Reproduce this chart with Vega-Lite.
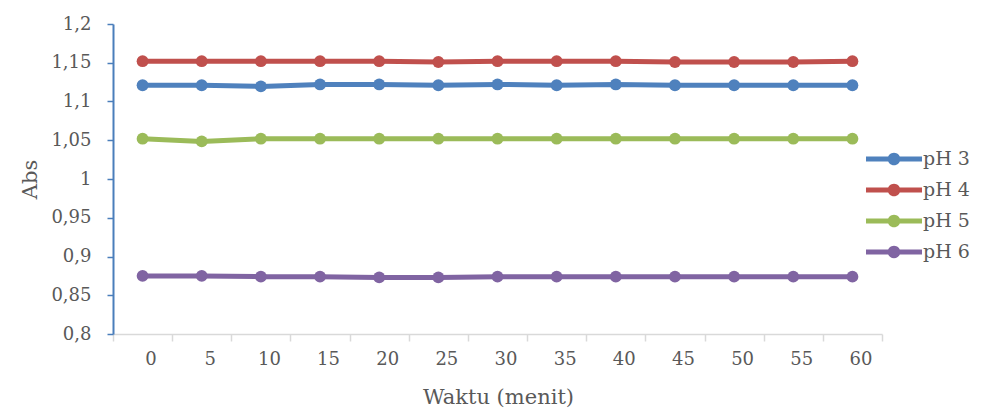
{
  "$schema": "https://vega.github.io/schema/vega-lite/v6.json",
  "width": 769,
  "height": 310,
  "autosize": "none",
  "padding": {"left": 113, "top": 24, "right": 102, "bottom": 78},
  "background": "white",
  "config": {
    "view": {"stroke": null},
    "font": "DejaVu Serif"
  },
  "data": {
    "values": [
      {"waktu": 0, "ph": "pH 3", "abs": 1.121},
      {"waktu": 5, "ph": "pH 3", "abs": 1.121},
      {"waktu": 10, "ph": "pH 3", "abs": 1.1195},
      {"waktu": 15, "ph": "pH 3", "abs": 1.122},
      {"waktu": 20, "ph": "pH 3", "abs": 1.122},
      {"waktu": 25, "ph": "pH 3", "abs": 1.121},
      {"waktu": 30, "ph": "pH 3", "abs": 1.122},
      {"waktu": 35, "ph": "pH 3", "abs": 1.121},
      {"waktu": 40, "ph": "pH 3", "abs": 1.122},
      {"waktu": 45, "ph": "pH 3", "abs": 1.121},
      {"waktu": 50, "ph": "pH 3", "abs": 1.121},
      {"waktu": 55, "ph": "pH 3", "abs": 1.121},
      {"waktu": 60, "ph": "pH 3", "abs": 1.121},
      {"waktu": 0, "ph": "pH 4", "abs": 1.152},
      {"waktu": 5, "ph": "pH 4", "abs": 1.152},
      {"waktu": 10, "ph": "pH 4", "abs": 1.152},
      {"waktu": 15, "ph": "pH 4", "abs": 1.152},
      {"waktu": 20, "ph": "pH 4", "abs": 1.152},
      {"waktu": 25, "ph": "pH 4", "abs": 1.151},
      {"waktu": 30, "ph": "pH 4", "abs": 1.152},
      {"waktu": 35, "ph": "pH 4", "abs": 1.152},
      {"waktu": 40, "ph": "pH 4", "abs": 1.152},
      {"waktu": 45, "ph": "pH 4", "abs": 1.151},
      {"waktu": 50, "ph": "pH 4", "abs": 1.151},
      {"waktu": 55, "ph": "pH 4", "abs": 1.151},
      {"waktu": 60, "ph": "pH 4", "abs": 1.152},
      {"waktu": 0, "ph": "pH 5", "abs": 1.052},
      {"waktu": 5, "ph": "pH 5", "abs": 1.0485},
      {"waktu": 10, "ph": "pH 5", "abs": 1.052},
      {"waktu": 15, "ph": "pH 5", "abs": 1.052},
      {"waktu": 20, "ph": "pH 5", "abs": 1.052},
      {"waktu": 25, "ph": "pH 5", "abs": 1.052},
      {"waktu": 30, "ph": "pH 5", "abs": 1.052},
      {"waktu": 35, "ph": "pH 5", "abs": 1.052},
      {"waktu": 40, "ph": "pH 5", "abs": 1.052},
      {"waktu": 45, "ph": "pH 5", "abs": 1.052},
      {"waktu": 50, "ph": "pH 5", "abs": 1.052},
      {"waktu": 55, "ph": "pH 5", "abs": 1.052},
      {"waktu": 60, "ph": "pH 5", "abs": 1.052},
      {"waktu": 0, "ph": "pH 6", "abs": 0.875},
      {"waktu": 5, "ph": "pH 6", "abs": 0.875},
      {"waktu": 10, "ph": "pH 6", "abs": 0.874},
      {"waktu": 15, "ph": "pH 6", "abs": 0.874},
      {"waktu": 20, "ph": "pH 6", "abs": 0.873},
      {"waktu": 25, "ph": "pH 6", "abs": 0.873},
      {"waktu": 30, "ph": "pH 6", "abs": 0.874},
      {"waktu": 35, "ph": "pH 6", "abs": 0.874},
      {"waktu": 40, "ph": "pH 6", "abs": 0.874},
      {"waktu": 45, "ph": "pH 6", "abs": 0.874},
      {"waktu": 50, "ph": "pH 6", "abs": 0.874},
      {"waktu": 55, "ph": "pH 6", "abs": 0.874},
      {"waktu": 60, "ph": "pH 6", "abs": 0.874}
    ]
  },
  "encoding": {
    "x": {
      "field": "waktu",
      "type": "ordinal",
      "bandPosition": 0.5,
      "scale": {"type": "band", "paddingInner": 0, "paddingOuter": 0},
      "axis": {
        "title": "Waktu (menit)",
        "labelAngle": 0,
        "labelFont": "DejaVu Serif",
        "labelFontSize": 18,
        "labelColor": "#595959",
        "labelPadding": 9,
        "labelOffset": 8,
        "domainColor": "#d9d9d9",
        "domainWidth": 1.5,
        "tickColor": "#d9d9d9",
        "tickWidth": 1.5,
        "tickSize": 7,
        "tickBand": "extent",
        "grid": false,
        "titleFont": "DejaVu Serif",
        "titleFontSize": 21,
        "titleFontWeight": "normal",
        "titleColor": "#595959",
        "titleBaseline": "middle",
        "titleX": 385,
        "titleY": 63
      }
    },
    "y": {
      "field": "abs",
      "type": "quantitative",
      "scale": {"domain": [0.8, 1.2], "zero": false, "nice": false},
      "axis": {
        "title": "Abs",
        "values": [0.8, 0.85, 0.9, 0.95, 1, 1.05, 1.1, 1.15, 1.2],
        "labelExpr": "replace(format(datum.value, '~g'), '.', ',')",
        "labelFont": "DejaVu Serif",
        "labelFontSize": 18,
        "labelColor": "#595959",
        "labelPadding": 16,
        "domainColor": "#4a7ebb",
        "domainWidth": 2,
        "tickColor": "#4a7ebb",
        "tickWidth": 1.5,
        "tickSize": 6,
        "grid": false,
        "titleFont": "DejaVu Serif",
        "titleFontSize": 21,
        "titleFontWeight": "normal",
        "titleColor": "#595959",
        "titleAngle": -90,
        "titleAlign": "center",
        "titleBaseline": "middle",
        "titleX": -83,
        "titleY": 155
      }
    },
    "color": {
      "field": "ph",
      "type": "nominal",
      "scale": {
        "domain": ["pH 3", "pH 4", "pH 5", "pH 6"],
        "range": ["#4f81bd", "#c0504d", "#9bbb59", "#8064a2"]
      },
      "legend": {
        "title": null,
        "orient": "none",
        "legendX": 771,
        "legendY": 125,
        "symbolType": "M-2.8,-0.25 L2.8,-0.25 L2.8,0.25 L-2.8,0.25 Z M0.63,0 A0.63,0.63 0 1,1 -0.63,0 A0.63,0.63 0 1,1 0.63,0 Z",
        "symbolSize": 400,
        "symbolStrokeWidth": 0,
        "symbolOpacity": 1,
        "labelFont": "DejaVu Serif",
        "labelFontSize": 19,
        "labelColor": "#595959",
        "labelOffset": 19,
        "rowPadding": 11
      }
    }
  },
  "layer": [
    {"mark": {"type": "line", "strokeWidth": 5, "strokeCap": "round", "strokeJoin": "round"}},
    {"mark": {"type": "point", "filled": true, "opacity": 1, "size": 140}}
  ]
}
